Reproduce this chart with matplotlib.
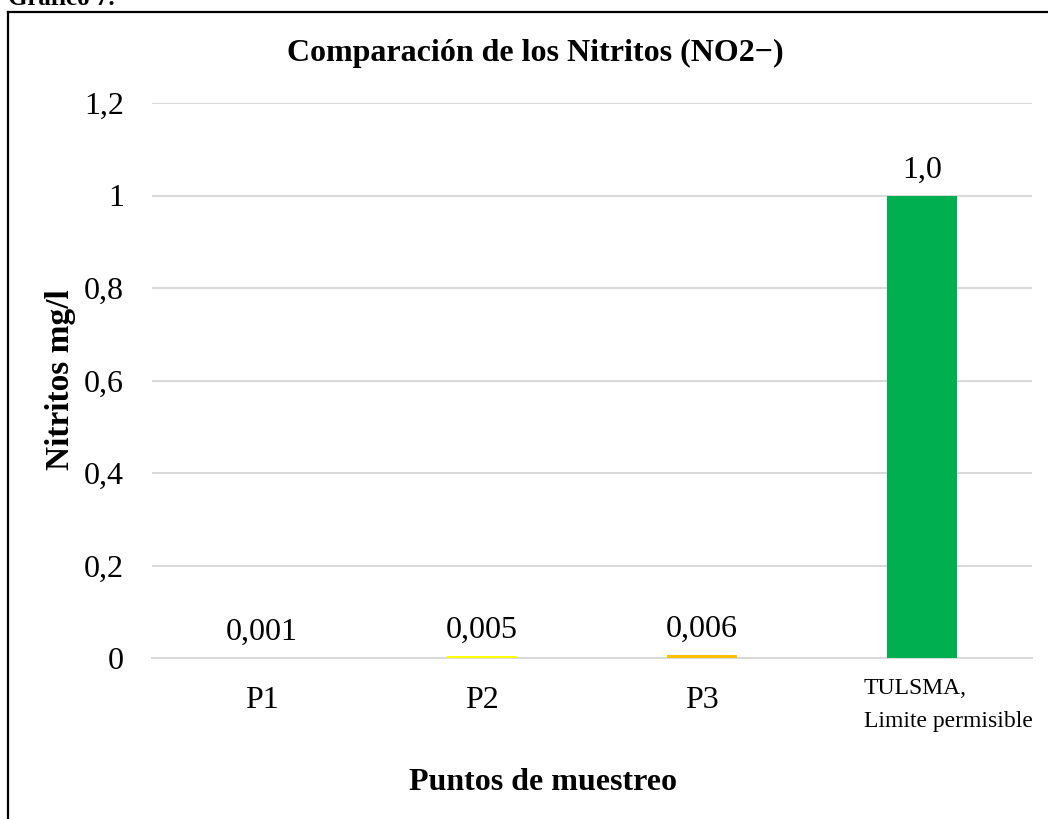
import matplotlib
matplotlib.use('Agg')
import matplotlib.pyplot as plt
from matplotlib.lines import Line2D
import matplotlib.transforms as mtransforms

# data
puntos = ['P1', 'P2', 'P3']
ultima_categoria = 'TULSMA,\nLimite permisible'
valores = [0.001, 0.005, 0.006, 1.0]
etiquetas = ['0,001', '0,005', '0,006', '1,0']
colores = ['#f4b6b0', '#ffff00', '#ffc000', '#00b050']
yticks = [0, 0.2, 0.4, 0.6, 0.8, 1.0, 1.2]
yticklabels = ['0', '0,2', '0,4', '0,6', '0,8', '1', '1,2']

plt.rcParams['font.family'] = ['Liberation Serif', 'DejaVu Serif']

fig = plt.figure(figsize=(10.48, 8.19), dpi=100)
ax = fig.add_axes([152 / 1048, 161 / 819, 880 / 1048, 555 / 819])

x = list(range(len(valores)))
bars = ax.bar(x, valores, width=0.32, color=colores, zorder=3)

for b, lab in zip(bars, etiquetas):
    ax.annotate(lab, (b.get_x() + b.get_width() / 2, b.get_height()),
                xytext=(0, 8), textcoords='offset points',
                ha='center', va='bottom', fontsize=23)

ax.set_xlim(-0.5, len(valores) - 0.5)
ax.set_ylim(0, 1.2)
ax.set_yticks(yticks)
ax.set_yticklabels(yticklabels, fontsize=23)
ax.set_xticks(x[:3])
ax.set_xticklabels(puntos, fontsize=23)
ax.tick_params(length=0)
ax.tick_params(axis='y', pad=20)
ax.tick_params(axis='x', pad=20)

# last category label, a bit right of the bar
off = mtransforms.ScaledTranslation(26 / 100, -20 / 100, fig.dpi_scale_trans)
trans = mtransforms.blended_transform_factory(ax.transData, ax.transAxes) + off
ax.text(x[3], 0, ultima_categoria, transform=trans, ha='center', va='top',
        multialignment='left', fontsize=17, linespacing=1.75)

ax.grid(axis='y', color='#d9d9d9', linewidth=1.4, zorder=0)
for s in ['top', 'right', 'left']:
    ax.spines[s].set_visible(False)
ax.spines['bottom'].set_color('#d9d9d9')
ax.spines['bottom'].set_linewidth(1.4)

fig.text(535 / 1048, 1 - 53 / 819, 'Comparación de los Nitritos (NO2\u2212)',
         ha='center', va='center', fontsize=23, fontweight='bold')
fig.text(61 / 1048, 1 - 380 / 819, 'Nitritos mg/l', rotation=90,
         ha='center', va='center', fontsize=24, fontweight='bold')
fig.text(543 / 1048, 1 - 783 / 819, 'Puntos de muestreo',
         ha='center', va='center', fontsize=23, fontweight='bold')
fig.text(8 / 1048, 1 - 5 / 819, 'Gráfico 7.', ha='left', va='baseline',
         fontsize=18, fontweight='bold')

# frame
fig.add_artist(Line2D([8 / 1048, 8 / 1048], [0, 1 - 12 / 819], color='black', linewidth=1.6))
fig.add_artist(Line2D([8 / 1048, 1], [1 - 12 / 819, 1 - 12 / 819], color='black', linewidth=1.6))

fig.savefig('out.png', dpi=100)
